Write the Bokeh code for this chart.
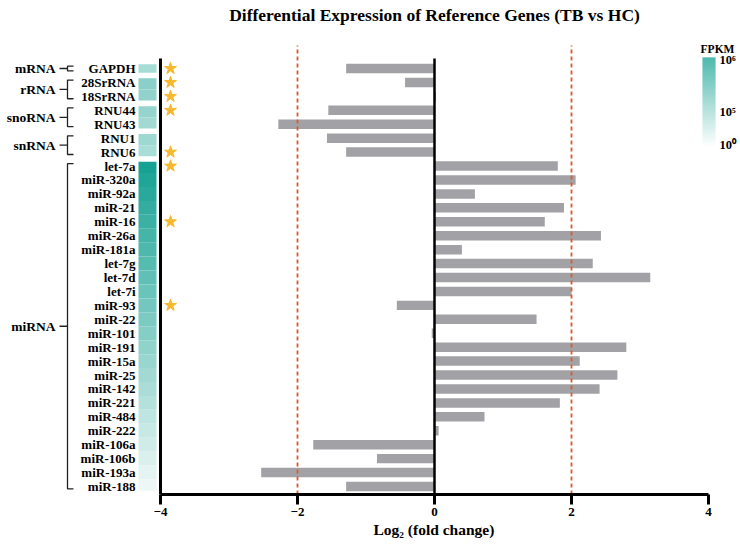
import numpy as np
from bokeh.plotting import figure
from bokeh.models import Range1d, FixedTicker, ColumnDataSource, Label, Title
from bokeh.core.properties import value
from bokeh.embed import file_html
from bokeh.resources import INLINE

# ---------------- data ----------------
genes = ["GAPDH", "28SrRNA", "18SrRNA", "RNU44", "RNU43", "RNU1", "RNU6",
         "let-7a", "miR-320a", "miR-92a", "miR-21", "miR-16", "miR-26a", "miR-181a",
         "let-7g", "let-7d", "let-7i", "miR-93", "miR-22", "miR-101", "miR-191",
         "miR-15a", "miR-25", "miR-142", "miR-221", "miR-484", "miR-222",
         "miR-106a", "miR-106b", "miR-193a", "miR-188"]
log2fc = [-1.29, -0.43, 0.02, -1.55, -2.28, -1.57, -1.29,
          1.80, 2.06, 0.59, 1.89, 1.61, 2.43, 0.40,
          2.31, 3.15, 2.00, -0.55, 1.49, -0.04, 2.80,
          2.12, 2.67, 2.41, 1.83, 0.73, 0.06,
          -1.77, -0.84, -2.53, -1.29]
fpkm_level = [0.38, 0.50, 0.47, 0.45, 0.40, 0.42, 0.37,
              1.00, 0.96, 0.92, 0.88, 0.84, 0.80, 0.76,
              0.72, 0.68, 0.64, 0.60, 0.56, 0.52, 0.48,
              0.44, 0.40, 0.36, 0.32, 0.28, 0.24,
              0.20, 0.16, 0.12, 0.08]
groups = ["mRNA", "rRNA", "snoRNA", "snRNA", "miRNA"]
group_sizes = [1, 2, 2, 2, 24]
significant = ["GAPDH", "28SrRNA", "18SrRNA", "RNU44", "RNU6", "let-7a", "miR-16", "miR-93"]
x_ticks = [-4, -2, 0, 2, 4]
cutoffs = [-2, 2]
cbar_ticks = [0.03, 0.39, 0.97]
cbar_labels = ["10⁰", "10⁵", "10⁶"]
title_text = "Differential Expression of Reference Genes (TB vs HC)"
x_label = "Log₂ (fold change)"

# ---------------- layout constants ----------------
W, H = 740, 545
PX = 68.5          # pixels per log2 unit
ROW = 13.93        # pixels per row
n = len(genes)
x_start = -4 - 160 / PX
x_end = 4 + 32 / PX
y_end = 68 / ROW
y_start = -(n - 1) - 8 / ROW
FONT = "Liberation Serif"

ypos = [-i for i in range(n)]

p = figure(width=W, height=H, output_backend="svg", toolbar_location=None,
           x_range=Range1d(x_start, x_end), y_range=Range1d(y_start, y_end),
           y_axis_location=None, min_border_left=0, min_border_right=0,
           min_border_top=0, min_border_bottom=51)
p.outline_line_color = None
p.xgrid.visible = False
p.ygrid.visible = False
p.background_fill_color = "white"

# x axis
ax = p.xaxis[0]
ax.bounds = (-4, 4)
ax.ticker = FixedTicker(ticks=x_ticks)
ax.axis_line_width = 3
ax.axis_line_color = "black"
ax.major_tick_line_width = 3
ax.major_tick_line_color = "black"
ax.major_tick_out = 10
ax.major_tick_in = 0
ax.minor_tick_line_color = None
ax.major_label_text_font = FONT
ax.major_label_text_font_style = "bold"
ax.major_label_text_font_size = "13px"
ax.major_label_text_color = "black"
ax.major_label_standoff = 3

# x-axis label as a bottom title, shifted so it centres on x = 0
xt = Title(text=x_label, align="left", offset=373, standoff=0, text_color="black",
           text_font=FONT, text_font_style="bold", text_font_size="15.5px")
p.add_layout(xt, "below")

# bars
src = ColumnDataSource(dict(y=ypos, v=log2fc, gene=genes, lvl=fpkm_level))
p.hbar(y="y", left=0, right="v", height=0.68, source=src, fill_color="#a2a2a6", line_color=None)

# cutoff dashed lines
for c in cutoffs:
    p.segment(x0=c, y0=y_start, x1=c, y1=1.65, line_color="#d95a2e", line_width=1.8, line_dash="4 3")

# axis-like vertical lines
p.segment(x0=-4, y0=y_start, x1=-4, y1=0.72, line_color="black", line_width=3)
p.segment(x0=0, y0=y_start, x1=0, y1=0.72, line_color="black", line_width=2.5)

# palette white -> teal
pal = []
c0 = np.array([255, 255, 255])
c1 = np.array([22, 162, 146])
for f in np.linspace(0, 1, 256):
    c = (c0 + (c1 - c0) * f).round().astype(int)
    pal.append("#%02x%02x%02x" % tuple(c))

def level_color(v):
    return pal[int(round(min(max(v, 0), 1) * 255))]

# heatmap column
tops, bots = [], []
start = 0
for size in group_sizes:
    for k in range(size):
        i = start + k
        tops.append(ypos[i] + (0.3 if k == 0 else 0.5))
        bots.append(ypos[i] - (0.3 if k == size - 1 else 0.5))
    start += size
hsrc = ColumnDataSource(dict(top=tops, bottom=bots, col=[level_color(v) for v in fpkm_level]))
p.quad(left=-4 - 22 / PX, right=-4 - 4 / PX, top="top", bottom="bottom", source=hsrc,
       fill_color="col", line_color=None)

# gene labels
p.text(x=-4 - 25 / PX, y="y", text="gene", source=src, text_align="right", text_baseline="middle",
       text_font=value(FONT), text_font_style="bold", text_font_size="13px", text_color="black")

# stars
sx, sy = [], []
for g, y in zip(genes, ypos):
    if g in significant:
        sx.append(-4 + 10 / PX)
        sy.append(y)
p.scatter(x=sx, y=sy, marker="star", size=12.5, fill_color="#f6b92e", line_color="#f6b92e")

# group brackets
xs, ys = [], []
lx, ly = [], []
start = 0
xv = -4 - 93 / PX
xr = -4 - 87 / PX
xl = -4 - 101 / PX
for g, size in zip(groups, group_sizes):
    ytop = ypos[start] + 0.17
    ybot = ypos[start + size - 1] - 0.17
    ymid = (ypos[start] + ypos[start + size - 1]) / 2
    xs.append([xr, xv, xv, xr])
    ys.append([ytop, ytop, ybot, ybot])
    xs.append([xv, xl])
    ys.append([ymid, ymid])
    lx.append(-4 - 105 / PX)
    ly.append(ymid)
    start += size
p.multi_line(xs=xs, ys=ys, line_color="#222222", line_width=1.3)
p.text(x=lx, y=ly, text=groups, text_align="right", text_baseline="middle",
       text_font=value(FONT), text_font_style="bold", text_font_size="13.5px", text_color="black")

# colour bar (drawn as a stack of thin cells)
cb_top = (68 - 57) / ROW
cb_bot = -(147 - 68) / ROW
nseg = 90
edges = np.linspace(cb_bot, cb_top, nseg + 1)
p.quad(left=4 - 6 / PX, right=4 + 7 / PX, bottom=edges[:-1], top=edges[1:],
       fill_color=[pal[int(round(k / (nseg - 1) * 255))] for k in range(nseg)], line_color=None)
p.text(x=[4 + 11 / PX] * len(cbar_ticks), y=[cb_bot + t * (cb_top - cb_bot) for t in cbar_ticks],
       text=cbar_labels, text_align="left", text_baseline="middle",
       text_font=value(FONT), text_font_style="bold", text_font_size="12.5px", text_color="black")
p.add_layout(Label(x=4 + 9 / PX, y=(68 - 48) / ROW, text="FPKM", text_align="center", text_baseline="middle",
                   text_color="black", text_font=FONT, text_font_style="bold", text_font_size="11.5px"))

# title
p.add_layout(Label(x=0, y=(68 - 14) / ROW, text=title_text, text_align="center", text_baseline="middle",
                   text_color="black", text_font=FONT, text_font_style="bold", text_font_size="17.5px"))

open("out.html", "w").write(file_html(p, INLINE))
